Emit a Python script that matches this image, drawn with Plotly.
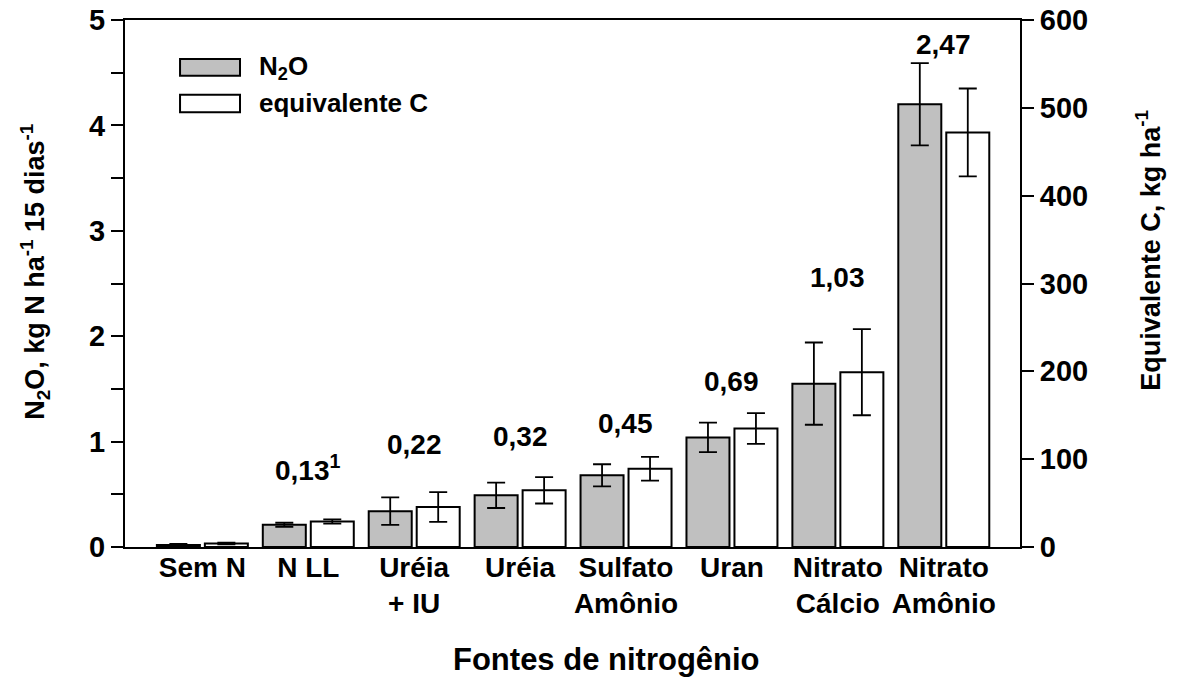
import plotly.graph_objects as go

# Nitrogen sources (x categories)
fontes = ["Sem N", "N LL", "Uréia<br>+ IU", "Uréia", "Sulfato<br>Amônio",
          "Uran", "Nitrato<br>Cálcio", "Nitrato<br>Amônio"]

# N2O emission, kg N ha-1 in 15 days (left axis) and its standard error
n2o = [0.02, 0.21, 0.34, 0.49, 0.68, 1.04, 1.55, 4.20]
n2o_err = [0.01, 0.02, 0.13, 0.12, 0.105, 0.14, 0.39, 0.39]

# Carbon equivalent, kg ha-1 (right axis) and its standard error
c_eq = [4, 29, 45.5, 64.5, 89, 135, 199, 472]
c_eq_err = [1, 2.5, 17, 15, 13.5, 17.5, 49, 50]

# Values printed above each group (from N LL onwards)
label_fontes = fontes[1:]
label_text = ["0,13<sup>1</sup>", "0,22", "0,32", "0,45", "0,69", "1,03", "2,47"]
label_heights = [0.75, 0.977, 1.053, 1.176, 1.575, 2.56, 4.77]

FONT = "Liberation Sans, Arial, sans-serif"
BAR_W = 0.406


def txt(size):
    return dict(family=FONT, size=size, color="black")


fig = go.Figure()

fig.add_trace(go.Bar(
    x=fontes, y=n2o, name="N<sub>2</sub>O",
    width=BAR_W, offset=-0.429,
    marker=dict(color="#c0c0c0", line=dict(color="black", width=2)),
    error_y=dict(type="data", array=n2o_err, color="black", thickness=1.8, width=9),
    yaxis="y", showlegend=False,
))
fig.add_trace(go.Bar(
    x=fontes, y=c_eq, name="equivalente C",
    width=BAR_W, offset=0.024,
    marker=dict(color="white", line=dict(color="black", width=2)),
    error_y=dict(type="data", array=c_eq_err, color="black", thickness=1.8, width=9),
    yaxis="y2", showlegend=False,
))

annotations = []
for f, t, h in zip(label_fontes, label_text, label_heights):
    annotations.append(dict(x=f, y=h, xref="x", yref="y", text=f"<b>{t}</b>",
                            xanchor="center", yanchor="middle",
                            showarrow=False, font=txt(28)))

# Axis titles
annotations += [
    dict(x=-0.1006, y=0.522, xref="paper", yref="paper", textangle=-90, showarrow=False,
         xanchor="center", yanchor="middle",
         text="<b>N<sub>2</sub>O, kg N ha<sup>-1</sup> 15 dias<sup>-1</sup></b>", font=txt(27)),
    dict(x=1.143, y=0.564, xref="paper", yref="paper", textangle=-90, showarrow=False,
         xanchor="center", yanchor="middle",
         text="<b>Equivalente C, kg ha<sup>-1</sup></b>", font=txt(27)),
    dict(x=0.5385, y=-0.2144, xref="paper", yref="paper", showarrow=False,
         xanchor="center", yanchor="middle",
         text="<b>Fontes de nitrogênio</b>", font=txt(31)),
]

# Legend swatches and labels
shapes = [
    dict(type="rect", xref="paper", yref="paper", x0=0.0615, x1=0.1285, y0=0.894, y1=0.926,
         fillcolor="#c0c0c0", line=dict(color="black", width=2)),
    dict(type="rect", xref="paper", yref="paper", x0=0.0615, x1=0.1285, y0=0.825, y1=0.858,
         fillcolor="white", line=dict(color="black", width=2)),
]
annotations += [
    dict(x=0.1475, y=0.909, xref="paper", yref="paper", xanchor="left", yanchor="middle",
         showarrow=False, text="<b>N<sub>2</sub>O</b>", font=txt(26)),
    dict(x=0.1475, y=0.8425, xref="paper", yref="paper", xanchor="left", yanchor="middle",
         showarrow=False, text="<b>equivalente C</b>", font=txt(26)),
]

fig.update_layout(
    width=1183, height=679,
    margin=dict(l=125, r=163, t=20, b=132, autoexpand=False),
    paper_bgcolor="white", plot_bgcolor="white",
    font=dict(family=FONT, color="black"),
    showlegend=False,
    xaxis=dict(
        type="category", range=[-0.73, 7.72], automargin=False,
        showline=True, linecolor="black", linewidth=2, mirror=True,
        ticks="", showgrid=False, zeroline=False, ticklabelstandoff=-6,
        tickfont=dict(family=FONT, size=28, color="black", weight="bold"),
    ),
    yaxis=dict(
        range=[0, 5], dtick=1, automargin=False,
        showline=True, linecolor="black", linewidth=2,
        ticks="outside", ticklen=12, tickwidth=2, tickcolor="black",
        minor=dict(dtick=0.5, ticks="outside", ticklen=12, tickwidth=2, tickcolor="black"),
        showgrid=False, zeroline=False,
        tickfont=dict(family=FONT, size=29, color="black", weight="bold"),
    ),
    yaxis2=dict(
        range=[0, 600], dtick=100, overlaying="y", side="right", automargin=False,
        showline=True, linecolor="black", linewidth=2,
        ticks="outside", ticklen=12, tickwidth=2, tickcolor="black",
        showgrid=False, zeroline=False,
        tickfont=dict(family=FONT, size=29, color="black", weight="bold"),
    ),
    annotations=annotations,
    shapes=shapes,
)

fig.write_html("out.html")
